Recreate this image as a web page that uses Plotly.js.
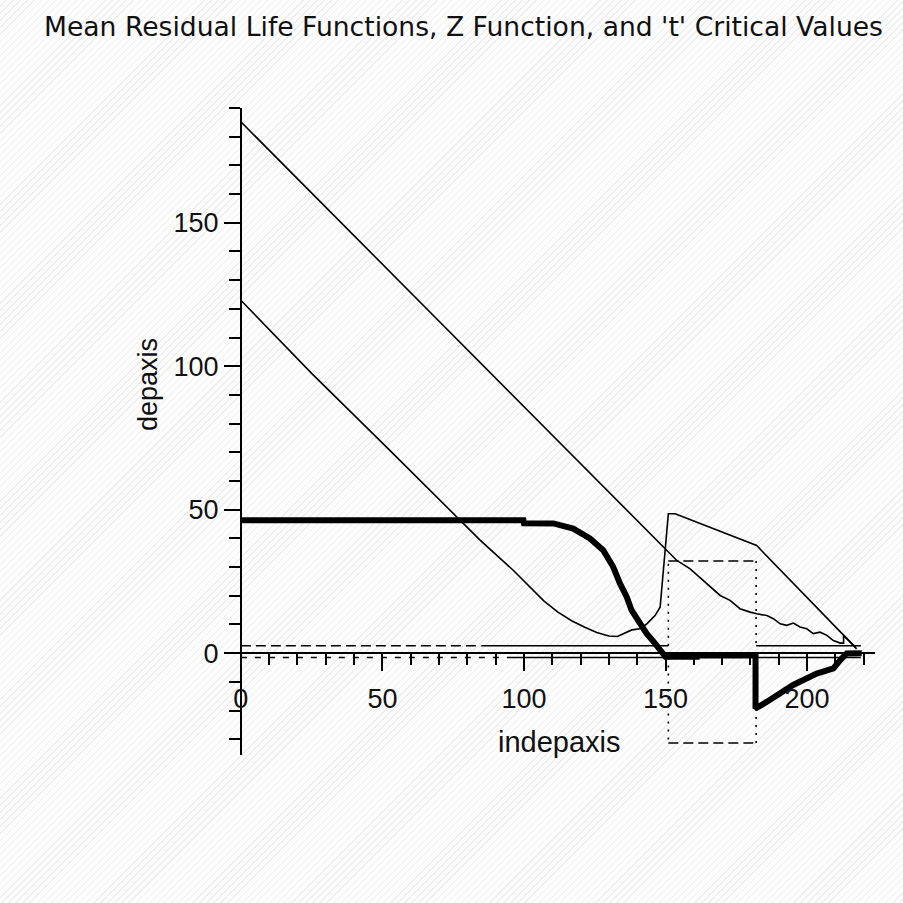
<!DOCTYPE html>
<html>
<head>
<meta charset="utf-8">
<script src="https://cdn.plot.ly/plotly-3.0.1.min.js"></script>
<style>
  html, body { margin: 0; padding: 0; }
  body {
    width: 903px; height: 903px; overflow: hidden;
    background: repeating-linear-gradient(135deg, #fdfdfd 0px, #fdfdfd 4px, #eeeeee 4px, #eeeeee 5px);
  }
  #chart { width: 903px; height: 903px; }
</style>
</head>
<body>
<div id="chart"></div>
<script>
// ---- Data ----
// Mean residual life function, group 1 (upper thin curve)
const mrl1X = [0, 150.4, 154.0, 158.7, 164.6, 169.3, 172.8, 176.3, 179.9, 182.2, 185.8, 188.1, 190.5, 192.8, 195.2, 197.5, 199.9, 202.2, 204.6, 207.0, 209.3, 211.7, 212.9, 212.9, 217.0];
const mrl1Y = [185.2, 35.8, 32.3, 29.4, 24.2, 20.1, 18.4, 15.5, 14.3, 13.7, 13.1, 12.0, 10.2, 9.7, 10.5, 9.1, 8.5, 6.8, 7.3, 6.2, 4.4, 3.5, 3.5, 6.2, 2.1];

// Mean residual life function, group 2 (lower thin curve)
const mrl2X = [0, 25, 52, 66.8, 84.5, 96.2, 102.1, 107.0, 112.0, 117.0, 121.5, 125.7, 130.0, 133.0, 138.1, 141.0, 143.4, 146.3, 148.1, 149.0, 149.8, 151.0, 153.4, 182.2, 216.4, 217.5];
const mrl2Y = [123.0, 97.5, 71.3, 56.8, 39.4, 28.9, 23.0, 18.2, 14.3, 11.2, 9.0, 7.2, 6.0, 5.8, 8.1, 8.5, 10.2, 13.1, 16.0, 25.3, 35.8, 48.6, 48.6, 37.5, 2.7, 1.5];

// Z function (thick curve)
const zX = [0, 99.8, 100.0, 110.4, 117.4, 123.3, 128.0, 131.5, 133.9, 136.3, 138.0, 140.4, 143.3, 146.3, 148.7, 150.0, 161.0, 161.0, 181.8, 181.8, 185.7, 195.1, 203.4, 209.3, 211.7, 214.0, 219.3];
const zY = [46.3, 46.3, 45.3, 45.2, 43.4, 40.0, 35.9, 30.1, 24.3, 19.6, 15.0, 10.9, 6.9, 3.4, 0.5, -1.3, -1.3, -0.8, -0.8, -19.3, -17.0, -11.1, -7.1, -5.3, -2.4, -0.1, 0.0];

// 't' critical values (upper and lower)
const tUpperX = [0, 85, 151, 151, 182, 182, 219];
const tUpperY = [2.6, 2.6, 2.6, 32.1, 32.1, 2.6, 2.6];
const tLowerX = [0, 94, 151, 151, 182, 182, 219];
const tLowerY = [-1.5, -1.5, -1.5, -31.3, -31.3, -1.5, -1.5];

// Line style of each segment of the 't' lines
const tUpperDash = ['10px,5px', 'solid', '2px,6px', '10px,5px', '2px,6px', 'solid'];
const tLowerDash = ['6px,8px', 'solid', '2px,6px', '10px,5px', '2px,6px', 'solid'];

// Axis settings / labels
const titleText = "Mean Residual Life Functions, Z Function, and 't' Critical Values";
const xTitle = "indepaxis";
const yTitle = "depaxis";
const xRange = [-5.6, 224];
const yRange = [-35.5, 190];

// ---- Build traces ----
const FONT = "Liberation Sans, Arial, Helvetica, sans-serif";
const TFONT = "DejaVu Sans, Liberation Sans, Arial, sans-serif";
const traces = [];

traces.push({ x: mrl1X, y: mrl1Y, type: 'scatter', mode: 'lines', name: 'MRL 1',
  line: { color: '#000', width: 1.6 } });
traces.push({ x: mrl2X, y: mrl2Y, type: 'scatter', mode: 'lines', name: 'MRL 2',
  line: { color: '#000', width: 1.6 } });

function addSegments(xs, ys, dashes, name) {
  for (let i = 0; i < xs.length - 1; i++) {
    traces.push({
      x: [xs[i], xs[i + 1]], y: [ys[i], ys[i + 1]],
      type: 'scatter', mode: 'lines', name: name, showlegend: false,
      line: { color: '#000', width: 1.6, dash: dashes[i] }
    });
  }
}
addSegments(tUpperX, tUpperY, tUpperDash, 't upper');
addSegments(tLowerX, tLowerY, tLowerDash, 't lower');

traces.push({ x: zX, y: zY, type: 'scatter', mode: 'lines', name: 'Z',
  line: { color: '#000', width: 6 } });

const L = 225, R = 28, T = 108, B = 148;
const plotW = 903 - L - R, plotH = 903 - T - B;
const xPos = (0 - yRange[0]) / (yRange[1] - yRange[0]);
const yPos = (0 - xRange[0]) / (xRange[1] - xRange[0]);

const layout = {
  width: 903, height: 903,
  margin: { l: L, r: R, t: T, b: B, pad: 0 },
  paper_bgcolor: 'rgba(0,0,0,0)',
  plot_bgcolor: 'rgba(0,0,0,0)',
  showlegend: false,
  hovermode: false,
  font: { family: FONT, color: '#000', size: 26 },
  title: {
    text: titleText,
    font: { family: TFONT, size: 26.6, color: '#111' },
    xref: 'container', x: 463.5 / 903, xanchor: 'center',
    yref: 'container', y: 1 - 17 / 903, yanchor: 'top'
  },
  xaxis: {
    range: xRange, anchor: 'free', position: xPos, side: 'bottom',
    showgrid: false, zeroline: false,
    showline: true, linecolor: '#000', linewidth: 2,
    ticks: 'outside', ticklen: 17, tickwidth: 2, tickcolor: '#000',
    tickmode: 'linear', tick0: 0, dtick: 50,
    ticklabelstandoff: 4,
    tickfont: { family: FONT, size: 27, color: '#111' },
    minor: { ticks: 'outside', tick0: 0, dtick: 10, ticklen: 11, tickwidth: 2, tickcolor: '#000', showgrid: false },
    automargin: false, fixedrange: true
  },
  yaxis: {
    range: yRange, anchor: 'free', position: yPos, side: 'left',
    showgrid: false, zeroline: false,
    showline: true, linecolor: '#000', linewidth: 2,
    ticks: 'outside', ticklen: 16, tickwidth: 2, tickcolor: '#000',
    tickmode: 'linear', tick0: 0, dtick: 50,
    tickfont: { family: FONT, size: 27, color: '#111' },
    minor: { ticks: 'outside', tick0: 0, dtick: 10, ticklen: 11, tickwidth: 2, tickcolor: '#000', showgrid: false },
    automargin: false, fixedrange: true
  },
  annotations: [
    { text: xTitle, xref: 'paper', yref: 'paper',
      x: (559 - L) / plotW, y: (903 - B - 742) / plotH,
      xanchor: 'center', yanchor: 'middle', showarrow: false,
      font: { family: FONT, size: 29, color: '#111' } },
    { text: yTitle, xref: 'paper', yref: 'paper',
      x: (148 - L) / plotW, y: (903 - B - 385) / plotH,
      xanchor: 'center', yanchor: 'middle', showarrow: false, textangle: -90,
      font: { family: FONT, size: 27, color: '#111' } }
  ]
};

Plotly.newPlot('chart', traces, layout, { displayModeBar: false, staticPlot: true });
</script>
</body>
</html>
